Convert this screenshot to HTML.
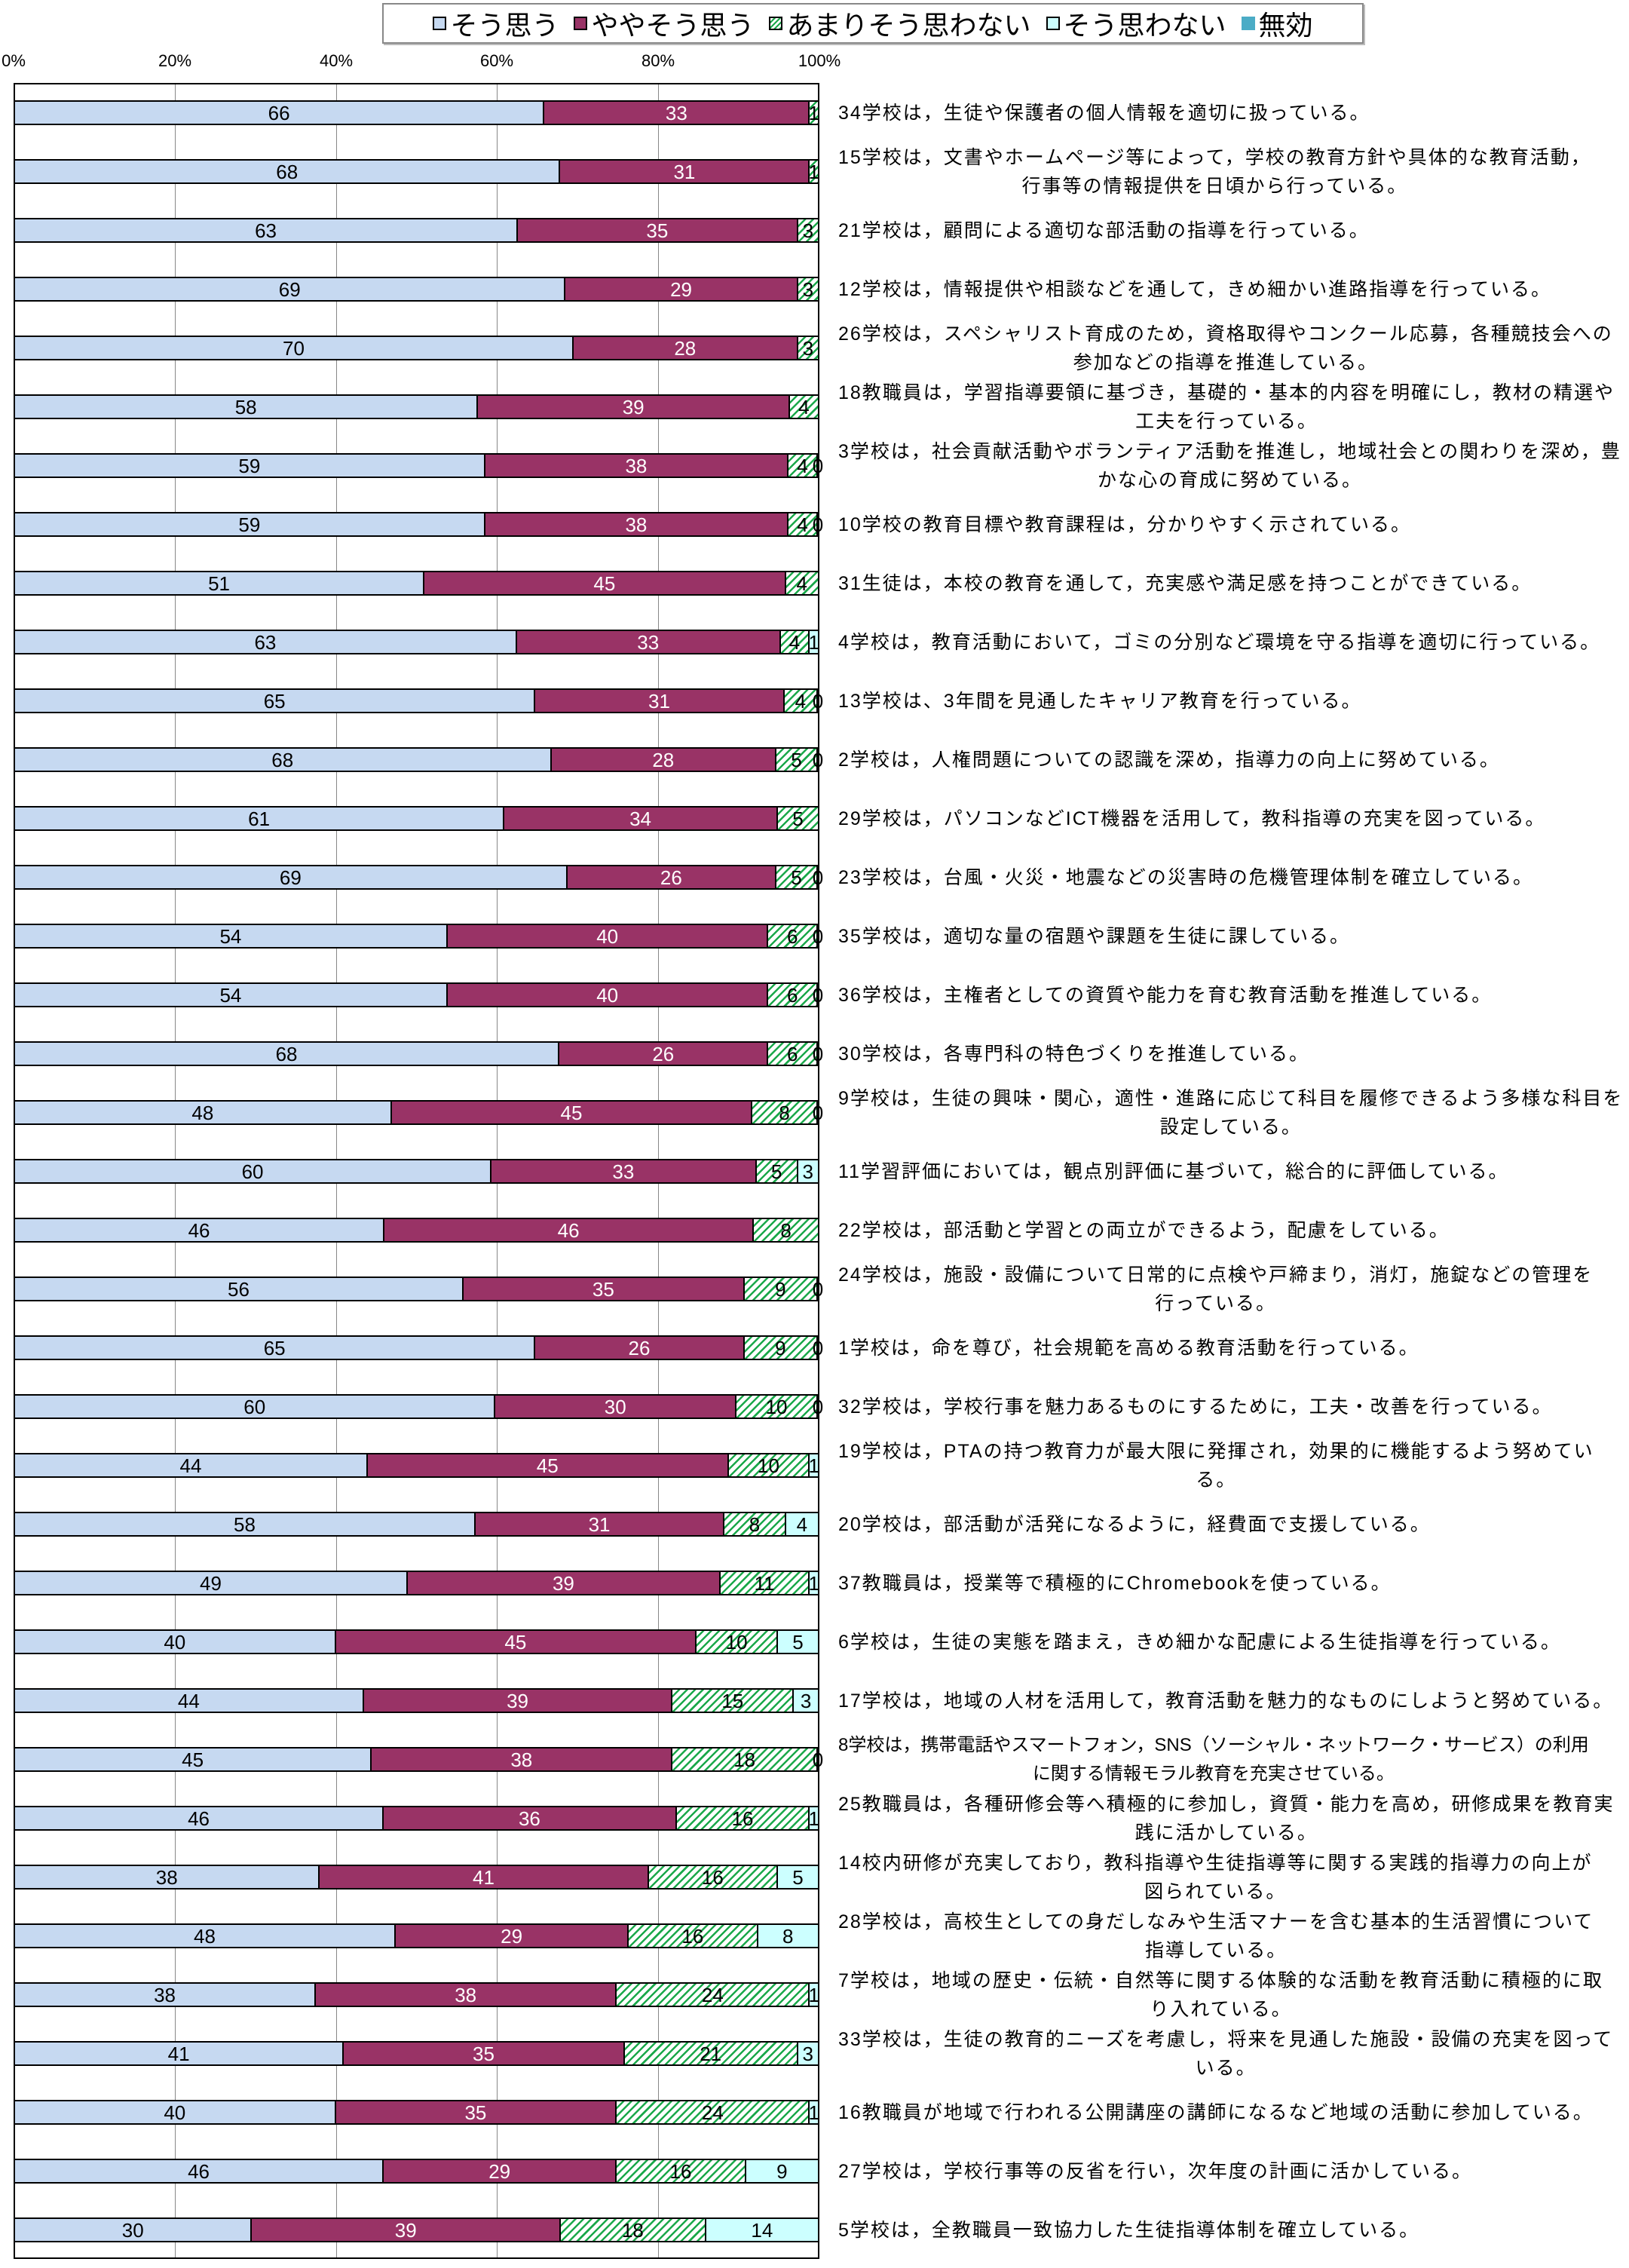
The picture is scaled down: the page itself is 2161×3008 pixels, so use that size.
<!DOCTYPE html>
<html><head><meta charset="utf-8">
<style>
html,body{margin:0;padding:0;background:#fff;}
body{width:2161px;height:3008px;position:relative;overflow:hidden;font-family:"Liberation Sans","Noto Sans CJK JP",sans-serif;}
.legend{position:absolute;left:507px;top:4px;width:1298px;height:50px;border:2px solid #888;box-shadow:2px 2px 0 #bbb;display:flex;align-items:center;justify-content:center;font-size:36px;white-space:nowrap;}
.legend span.it{display:inline-flex;align-items:center;margin:0 10px;}
.legend i{display:inline-block;width:14px;height:14px;border:2px solid #000;margin-right:5px;}
.ax{position:absolute;top:68px;font-size:22px;transform:translateX(-50%);}
.plot{position:absolute;left:18px;top:110px;width:1069px;height:2886px;border:2px solid #000;box-sizing:border-box;}
.g{position:absolute;top:0;bottom:0;width:1px;background:#888;}
.rows{position:absolute;left:18px;top:110px;width:2143px;}
.row{position:relative;height:78px;}
.bar{position:absolute;left:0;width:1069px;top:23px;height:33px;display:flex;box-sizing:border-box;border:2px solid #000;}
.s{position:relative;height:100%;box-sizing:border-box;border-left:2px solid #000;}
.s:first-child{border-left:none;}
.s b{position:absolute;left:50%;top:50%;transform:translate(-50%,-50%);font-weight:normal;font-size:26px;line-height:1;}
.a{background:#c6d9f1;}
.b{background:#993366;}
.b b{color:#fff;}
.c{background:repeating-linear-gradient(135deg,#fff 0 5px,#1aa84a 5px 7.5px);}
.d{background:#ccffff;}
.lab{position:absolute;left:1094px;top:40px;transform:translateY(-50%);font-size:25px;letter-spacing:2px;line-height:38px;text-align:center;white-space:nowrap;}
.lab.one{text-align:left;}
</style></head><body>
<div class="legend">
<span class="it"><i style="background:#c6d9f1"></i>そう思う</span>
<span class="it"><i style="background:#993366"></i>ややそう思う</span>
<span class="it"><i style="background:repeating-linear-gradient(135deg,#fff 0 3px,#1aa84a 3px 5px)"></i>あまりそう思わない</span>
<span class="it"><i style="background:#ccffff"></i>そう思わない</span>
<span class="it"><i style="background:#4bacc6;border-color:#4bacc6"></i>無効</span>
</div>
<div class="ax" style="left:18px">0%</div>
<div class="ax" style="left:232px">20%</div>
<div class="ax" style="left:446px">40%</div>
<div class="ax" style="left:659px">60%</div>
<div class="ax" style="left:873px">80%</div>
<div class="ax" style="left:1087px">100%</div>
<div class="plot">
<div class="g" style="left:212px"></div><div class="g" style="left:426px"></div><div class="g" style="left:639px"></div><div class="g" style="left:853px"></div>
</div>
<div class="rows">
<div class="row"><div class="bar"><div class="s a" style="flex:66"><b>66</b></div><div class="s b" style="flex:33"><b>33</b></div><div class="s c" style="flex:1"><b>1</b></div></div><div class="lab one">34学校は，生徒や保護者の個人情報を適切に扱っている。</div></div>
<div class="row"><div class="bar"><div class="s a" style="flex:68"><b>68</b></div><div class="s b" style="flex:31"><b>31</b></div><div class="s c" style="flex:1"><b>1</b></div></div><div class="lab">15学校は，文書やホームページ等によって，学校の教育方針や具体的な教育活動，<br>行事等の情報提供を日頃から行っている。</div></div>
<div class="row"><div class="bar"><div class="s a" style="flex:63"><b>63</b></div><div class="s b" style="flex:35"><b>35</b></div><div class="s c" style="flex:2.5"><b>3</b></div></div><div class="lab one">21学校は，顧問による適切な部活動の指導を行っている。</div></div>
<div class="row"><div class="bar"><div class="s a" style="flex:69"><b>69</b></div><div class="s b" style="flex:29"><b>29</b></div><div class="s c" style="flex:2.5"><b>3</b></div></div><div class="lab one">12学校は，情報提供や相談などを通して，きめ細かい進路指導を行っている。</div></div>
<div class="row"><div class="bar"><div class="s a" style="flex:70"><b>70</b></div><div class="s b" style="flex:28"><b>28</b></div><div class="s c" style="flex:2.5"><b>3</b></div></div><div class="lab">26学校は，スペシャリスト育成のため，資格取得やコンクール応募，各種競技会への<br>参加などの指導を推進している。</div></div>
<div class="row"><div class="bar"><div class="s a" style="flex:58"><b>58</b></div><div class="s b" style="flex:39"><b>39</b></div><div class="s c" style="flex:3.5"><b>4</b></div></div><div class="lab">18教職員は，学習指導要領に基づき，基礎的・基本的内容を明確にし，教材の精選や<br>工夫を行っている。</div></div>
<div class="row"><div class="bar"><div class="s a" style="flex:59"><b>59</b></div><div class="s b" style="flex:38"><b>38</b></div><div class="s c" style="flex:3.5"><b>4</b></div><div class="s d" style="flex:0"><b>0</b></div></div><div class="lab">3学校は，社会貢献活動やボランティア活動を推進し，地域社会との関わりを深め，豊<br>かな心の育成に努めている。</div></div>
<div class="row"><div class="bar"><div class="s a" style="flex:59"><b>59</b></div><div class="s b" style="flex:38"><b>38</b></div><div class="s c" style="flex:3.5"><b>4</b></div><div class="s d" style="flex:0"><b>0</b></div></div><div class="lab one">10学校の教育目標や教育課程は，分かりやすく示されている。</div></div>
<div class="row"><div class="bar"><div class="s a" style="flex:51"><b>51</b></div><div class="s b" style="flex:45"><b>45</b></div><div class="s c" style="flex:4"><b>4</b></div></div><div class="lab one">31生徒は，本校の教育を通して，充実感や満足感を持つことができている。</div></div>
<div class="row"><div class="bar"><div class="s a" style="flex:63"><b>63</b></div><div class="s b" style="flex:33"><b>33</b></div><div class="s c" style="flex:3.5"><b>4</b></div><div class="s d" style="flex:1"><b>1</b></div></div><div class="lab one">4学校は，教育活動において，ゴミの分別など環境を守る指導を適切に行っている。</div></div>
<div class="row"><div class="bar"><div class="s a" style="flex:65"><b>65</b></div><div class="s b" style="flex:31"><b>31</b></div><div class="s c" style="flex:4"><b>4</b></div><div class="s d" style="flex:0"><b>0</b></div></div><div class="lab one">13学校は、3年間を見通したキャリア教育を行っている。</div></div>
<div class="row"><div class="bar"><div class="s a" style="flex:67"><b>68</b></div><div class="s b" style="flex:28"><b>28</b></div><div class="s c" style="flex:5"><b>5</b></div><div class="s d" style="flex:0"><b>0</b></div></div><div class="lab one">2学校は，人権問題についての認識を深め，指導力の向上に努めている。</div></div>
<div class="row"><div class="bar"><div class="s a" style="flex:61"><b>61</b></div><div class="s b" style="flex:34"><b>34</b></div><div class="s c" style="flex:5"><b>5</b></div></div><div class="lab one">29学校は，パソコンなどICT機器を活用して，教科指導の充実を図っている。</div></div>
<div class="row"><div class="bar"><div class="s a" style="flex:69"><b>69</b></div><div class="s b" style="flex:26"><b>26</b></div><div class="s c" style="flex:5"><b>5</b></div><div class="s d" style="flex:0"><b>0</b></div></div><div class="lab one">23学校は，台風・火災・地震などの災害時の危機管理体制を確立している。</div></div>
<div class="row"><div class="bar"><div class="s a" style="flex:54"><b>54</b></div><div class="s b" style="flex:40"><b>40</b></div><div class="s c" style="flex:6"><b>6</b></div><div class="s d" style="flex:0"><b>0</b></div></div><div class="lab one">35学校は，適切な量の宿題や課題を生徒に課している。</div></div>
<div class="row"><div class="bar"><div class="s a" style="flex:54"><b>54</b></div><div class="s b" style="flex:40"><b>40</b></div><div class="s c" style="flex:6"><b>6</b></div><div class="s d" style="flex:0"><b>0</b></div></div><div class="lab one">36学校は，主権者としての資質や能力を育む教育活動を推進している。</div></div>
<div class="row"><div class="bar"><div class="s a" style="flex:68"><b>68</b></div><div class="s b" style="flex:26"><b>26</b></div><div class="s c" style="flex:6"><b>6</b></div><div class="s d" style="flex:0"><b>0</b></div></div><div class="lab one">30学校は，各専門科の特色づくりを推進している。</div></div>
<div class="row"><div class="bar"><div class="s a" style="flex:47"><b>48</b></div><div class="s b" style="flex:45"><b>45</b></div><div class="s c" style="flex:8"><b>8</b></div><div class="s d" style="flex:0"><b>0</b></div></div><div class="lab">9学校は，生徒の興味・関心，適性・進路に応じて科目を履修できるよう多様な科目を<br>設定している。</div></div>
<div class="row"><div class="bar"><div class="s a" style="flex:59.5"><b>60</b></div><div class="s b" style="flex:33"><b>33</b></div><div class="s c" style="flex:5"><b>5</b></div><div class="s d" style="flex:2.5"><b>3</b></div></div><div class="lab one">11学習評価においては，観点別評価に基づいて，総合的に評価している。</div></div>
<div class="row"><div class="bar"><div class="s a" style="flex:46"><b>46</b></div><div class="s b" style="flex:46"><b>46</b></div><div class="s c" style="flex:8"><b>8</b></div></div><div class="lab one">22学校は，部活動と学習との両立ができるよう，配慮をしている。</div></div>
<div class="row"><div class="bar"><div class="s a" style="flex:56"><b>56</b></div><div class="s b" style="flex:35"><b>35</b></div><div class="s c" style="flex:9"><b>9</b></div><div class="s d" style="flex:0"><b>0</b></div></div><div class="lab">24学校は，施設・設備について日常的に点検や戸締まり，消灯，施錠などの管理を<br>行っている。</div></div>
<div class="row"><div class="bar"><div class="s a" style="flex:65"><b>65</b></div><div class="s b" style="flex:26"><b>26</b></div><div class="s c" style="flex:9"><b>9</b></div><div class="s d" style="flex:0"><b>0</b></div></div><div class="lab one">1学校は，命を尊び，社会規範を高める教育活動を行っている。</div></div>
<div class="row"><div class="bar"><div class="s a" style="flex:60"><b>60</b></div><div class="s b" style="flex:30"><b>30</b></div><div class="s c" style="flex:10"><b>10</b></div><div class="s d" style="flex:0"><b>0</b></div></div><div class="lab one">32学校は，学校行事を魅力あるものにするために，工夫・改善を行っている。</div></div>
<div class="row"><div class="bar"><div class="s a" style="flex:44"><b>44</b></div><div class="s b" style="flex:45"><b>45</b></div><div class="s c" style="flex:10"><b>10</b></div><div class="s d" style="flex:1"><b>1</b></div></div><div class="lab">19学校は，PTAの持つ教育力が最大限に発揮され，効果的に機能するよう努めてい<br>る。</div></div>
<div class="row"><div class="bar"><div class="s a" style="flex:57.5"><b>58</b></div><div class="s b" style="flex:31"><b>31</b></div><div class="s c" style="flex:7.5"><b>8</b></div><div class="s d" style="flex:4"><b>4</b></div></div><div class="lab one">20学校は，部活動が活発になるように，経費面で支援している。</div></div>
<div class="row"><div class="bar"><div class="s a" style="flex:49"><b>49</b></div><div class="s b" style="flex:39"><b>39</b></div><div class="s c" style="flex:11"><b>11</b></div><div class="s d" style="flex:1"><b>1</b></div></div><div class="lab one">37教職員は，授業等で積極的にChromebookを使っている。</div></div>
<div class="row"><div class="bar"><div class="s a" style="flex:40"><b>40</b></div><div class="s b" style="flex:45"><b>45</b></div><div class="s c" style="flex:10"><b>10</b></div><div class="s d" style="flex:5"><b>5</b></div></div><div class="lab one">6学校は，生徒の実態を踏まえ，きめ細かな配慮による生徒指導を行っている。</div></div>
<div class="row"><div class="bar"><div class="s a" style="flex:43.5"><b>44</b></div><div class="s b" style="flex:38.5"><b>39</b></div><div class="s c" style="flex:15"><b>15</b></div><div class="s d" style="flex:3"><b>3</b></div></div><div class="lab one">17学校は，地域の人材を活用して，教育活動を魅力的なものにしようと努めている。</div></div>
<div class="row"><div class="bar"><div class="s a" style="flex:44.5"><b>45</b></div><div class="s b" style="flex:37.5"><b>38</b></div><div class="s c" style="flex:18"><b>18</b></div><div class="s d" style="flex:0"><b>0</b></div></div><div class="lab" style="letter-spacing:0;font-size:24px">8学校は，携帯電話やスマートフォン，SNS（ソーシャル・ネットワーク・サービス）の利用<br>に関する情報モラル教育を充実させている。</div></div>
<div class="row"><div class="bar"><div class="s a" style="flex:46"><b>46</b></div><div class="s b" style="flex:36.5"><b>36</b></div><div class="s c" style="flex:16.5"><b>16</b></div><div class="s d" style="flex:1"><b>1</b></div></div><div class="lab">25教職員は，各種研修会等へ積極的に参加し，資質・能力を高め，研修成果を教育実<br>践に活かしている。</div></div>
<div class="row"><div class="bar"><div class="s a" style="flex:38"><b>38</b></div><div class="s b" style="flex:41"><b>41</b></div><div class="s c" style="flex:16"><b>16</b></div><div class="s d" style="flex:5"><b>5</b></div></div><div class="lab">14校内研修が充実しており，教科指導や生徒指導等に関する実践的指導力の向上が<br>図られている。</div></div>
<div class="row"><div class="bar"><div class="s a" style="flex:47.5"><b>48</b></div><div class="s b" style="flex:29"><b>29</b></div><div class="s c" style="flex:16"><b>16</b></div><div class="s d" style="flex:7.5"><b>8</b></div></div><div class="lab">28学校は，高校生としての身だしなみや生活マナーを含む基本的生活習慣について<br>指導している。</div></div>
<div class="row"><div class="bar"><div class="s a" style="flex:37.5"><b>38</b></div><div class="s b" style="flex:37.5"><b>38</b></div><div class="s c" style="flex:24"><b>24</b></div><div class="s d" style="flex:1"><b>1</b></div></div><div class="lab">7学校は，地域の歴史・伝統・自然等に関する体験的な活動を教育活動に積極的に取<br>り入れている。</div></div>
<div class="row"><div class="bar"><div class="s a" style="flex:41"><b>41</b></div><div class="s b" style="flex:35"><b>35</b></div><div class="s c" style="flex:21.5"><b>21</b></div><div class="s d" style="flex:2.5"><b>3</b></div></div><div class="lab">33学校は，生徒の教育的ニーズを考慮し，将来を見通した施設・設備の充実を図って<br>いる。</div></div>
<div class="row"><div class="bar"><div class="s a" style="flex:40"><b>40</b></div><div class="s b" style="flex:35"><b>35</b></div><div class="s c" style="flex:24"><b>24</b></div><div class="s d" style="flex:1"><b>1</b></div></div><div class="lab one">16教職員が地域で行われる公開講座の講師になるなど地域の活動に参加している。</div></div>
<div class="row"><div class="bar"><div class="s a" style="flex:46"><b>46</b></div><div class="s b" style="flex:29"><b>29</b></div><div class="s c" style="flex:16"><b>16</b></div><div class="s d" style="flex:9"><b>9</b></div></div><div class="lab one">27学校は，学校行事等の反省を行い，次年度の計画に活かしている。</div></div>
<div class="row"><div class="bar"><div class="s a" style="flex:29.5"><b>30</b></div><div class="s b" style="flex:38.5"><b>39</b></div><div class="s c" style="flex:18"><b>18</b></div><div class="s d" style="flex:14"><b>14</b></div></div><div class="lab one">5学校は，全教職員一致協力した生徒指導体制を確立している。</div></div>
</div>
</body></html>
